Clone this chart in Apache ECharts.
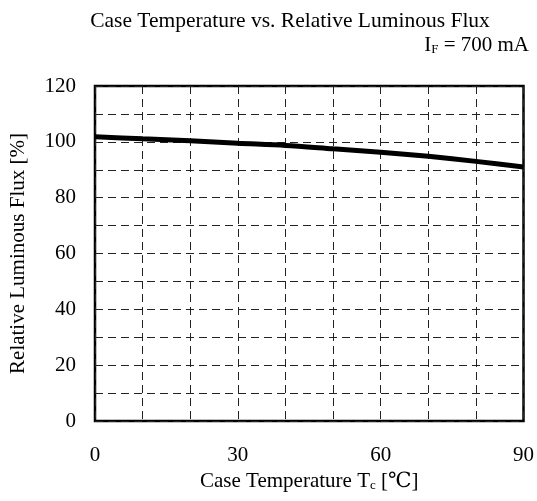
<!DOCTYPE html>
<html><head><meta charset="utf-8">
<script src="https://cdn.jsdelivr.net/npm/echarts@6/dist/echarts.min.js"></script>
<style>html,body{margin:0;padding:0;background:#fff}#c{width:537px;height:501px}</style>
</head><body><div id="c"></div>
<script>
const temps = [0, 10, 20, 30, 40, 50, 60, 70, 80, 90];
const flux = [101.8, 101.1, 100.4, 99.5, 98.7, 97.5, 96.3, 94.8, 93.0, 91.0];
const xLabels = [0, 30, 60, 90];
const yLabels = [0, 20, 40, 60, 80, 100, 120];

const FONT = '"Liberation Serif","DejaVu Serif",serif';
const chart = echarts.init(document.getElementById('c'));
const grid = {left: 92, right: 11, top: 86, bottom: 80};
chart.setOption({
  animation: false,
  backgroundColor: '#fff',
  graphic: [
    {type: 'text', x: 290, y: 21, style: {text: 'Case Temperature vs. Relative Luminous Flux', font: '21.5px ' + FONT, fill: '#000', textAlign: 'center', textVerticalAlign: 'middle'}},
    {type: 'text', x: 529, y: 56, style: {text: '{a|I}{s|F}{a| = 700 mA}', textAlign: 'right', textVerticalAlign: 'bottom',
      rich: {a: {fontFamily: FONT, fontSize: 21, fill: '#000', color: '#000'}, s: {fontFamily: FONT, fontSize: 13, color: '#000', fill: '#000', padding: [8, 0, 0, 0]}}}}
  ],
  grid: Object.assign({show: true, borderColor: '#000', borderWidth: 2.5, backgroundColor: 'transparent'}, grid),
  xAxis: {
    type: 'value', min: 0, max: 90, interval: 10,
    axisLine: {show: false}, axisTick: {show: false},
    splitLine: {show: true, lineStyle: {color: '#222', width: 1, type: [8, 5]}},
    axisLabel: {margin: 24, fontFamily: FONT, fontSize: 21, color: '#000',
      formatter: v => xLabels.includes(v) ? String(v) : ''},
    name: '{a|Case Temperature T}{s|c}{a| [℃]}', nameLocation: 'middle', nameGap: 49,
    nameTextStyle: {rich: {a: {fontFamily: FONT, fontSize: 21, color: '#000'}, s: {fontFamily: FONT, fontSize: 13, color: '#000', padding: [8, 0, 0, 0]}}}
  },
  yAxis: {
    type: 'value', min: 0, max: 120, interval: 10,
    axisLine: {show: false}, axisTick: {show: false},
    splitLine: {show: true, lineStyle: {color: '#222', width: 1, type: [8, 5]}},
    axisLabel: {margin: 19, fontFamily: FONT, fontSize: 21, color: '#000',
      formatter: v => yLabels.includes(v) ? String(v) : ''},
    name: 'Relative Luminous Flux [%]', nameLocation: 'middle', nameGap: 66,
    nameTextStyle: {fontFamily: FONT, fontSize: 21, color: '#000'}
  },
  series: [{
    type: 'line', data: temps.map((t, i) => [t, flux[i]]), showSymbol: false, symbol: 'none',
    lineStyle: {color: '#000', width: 5}, smooth: 0.3
  }]
});
</script></body></html>
